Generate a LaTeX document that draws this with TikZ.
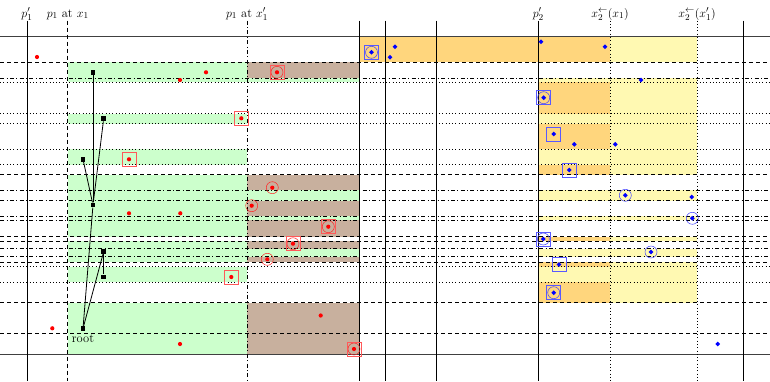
\documentclass[tikz,border=0pt]{standalone}
\usetikzlibrary{shapes.geometric}
\definecolor{cgreen}{RGB}{204,255,204}
\definecolor{cbrown}{RGB}{200,176,158}
\definecolor{corange}{RGB}{255,214,125}
\definecolor{cyellow}{RGB}{255,249,178}
\tikzset{
  sline/.style={line width=0.8pt},
  hsline/.style={line width=0.9pt, black!75},
  dshline/.style={line width=0.8pt, dash pattern=on 4pt off 3pt},
  ddtline/.style={line width=0.8pt, dash pattern=on 4pt off 2.5pt on 0.8pt off 2.5pt},
  dttline/.style={line width=0.8pt, dash pattern=on 0.8pt off 2.5pt},
  tnode/.style={rectangle, fill=black, minimum size=4.8pt, inner sep=0pt},
  tedge/.style={line width=0.8pt},
  rpt/.style={circle, fill=red, minimum size=4.2pt, inner sep=0pt},
  bpt/.style={diamond, aspect=1, fill=blue, minimum size=5pt, inner sep=0pt},
  rcirc/.style={circle, draw=red!85, line width=0.5pt, minimum size=12pt, inner sep=0pt},
  rsq/.style={rectangle, draw=red!65, line width=0.7pt, minimum size=14pt, inner sep=0pt},
  bcirc/.style={circle, draw=blue!75, line width=0.5pt, minimum size=12pt, inner sep=0pt},
  bsq/.style={rectangle, draw=blue!65, line width=0.7pt, minimum size=14pt, inner sep=0pt},
  toplabel/.style={anchor=base, inner sep=0pt}
}
\begin{document}
\begin{tikzpicture}[x=1pt, y=-1pt, font=\fontsize{12.5}{15}\selectfont]
\useasboundingbox (0,0) rectangle (770,381);
% ---------- left fills ----------
\fill[cgreen] (67.7,62.3) rectangle (359.3,82.3);
\fill[cbrown] (247,62.3) rectangle (359.3,78);
\fill[cgreen] (67.7,113.7) rectangle (247,123.7);
\fill[cgreen] (67.7,149) rectangle (247,164.7);
\fill[cgreen] (67.7,174.7) rectangle (359.3,236.7);
\fill[cbrown] (247,174.7) rectangle (359.3,190.3);
\fill[cbrown] (247,200.7) rectangle (359.3,216);
\fill[cbrown] (247,220.3) rectangle (359.3,236.7);
\fill[cgreen] (67.7,241) rectangle (359.3,262);
\fill[cbrown] (247,241) rectangle (359.3,248.7);
\fill[cbrown] (247,256.7) rectangle (359.3,262);
\fill[cgreen] (67.7,266.7) rectangle (247,282.3);
\fill[cgreen] (67.7,302.7) rectangle (247,354);
\fill[cbrown] (247,302.7) rectangle (359.3,354);
% ---------- right fills ----------
\fill[corange] (359.3,36.5) rectangle (610,62.3);
\fill[cyellow] (610,36.5) rectangle (697,62.3);
\fill[cyellow] (538.3,78) rectangle (697,174.7);
\fill[corange] (538.3,82.3) rectangle (610,113.7);
\fill[corange] (538.3,123.7) rectangle (610,149);
\fill[corange] (538.3,164.7) rectangle (610,174.7);
\fill[cyellow] (538.3,190.3) rectangle (697,200.7);
\fill[cyellow] (538.3,216) rectangle (697,220.3);
\fill[cyellow] (538.3,236.7) rectangle (697,241);
\fill[corange] (538.3,236.7) rectangle (610,241);
\fill[cyellow] (538.3,248.7) rectangle (697,256.7);
\fill[cyellow] (538.3,262) rectangle (697,302.7);
\fill[corange] (538.3,262) rectangle (610,266.7);
\fill[corange] (538.3,282.3) rectangle (610,302.7);
% ---------- horizontal lines ----------
\foreach \yy in {36.5,354} \draw[hsline] (0,\yy) -- (770,\yy);
\foreach \yy in {62.3,174.7,236.7,241,262,302.7,333.3} \draw[dshline] (0,\yy) -- (770,\yy);
\foreach \yy in {78,190.3,200.7,216,220.3,248.7,256.7} \draw[ddtline] (0,\yy) -- (770,\yy);
\foreach \yy in {82.3,113.7,123.7,149,164.7,266.7,282.3} \draw[dttline] (0,\yy) -- (770,\yy);
% ---------- vertical lines ----------
\foreach \xx in {27,359.3,385,436,538.3,743.3} \draw[sline] (\xx,20.5) -- (\xx,381);
\draw[dshline] (67.7,20.5) -- (67.7,381);
\draw[ddtline] (247,20.5) -- (247,381);
\foreach \xx in {610,697} \draw[dttline] (\xx,20.5) -- (\xx,381);
% ---------- labels ----------
\node[toplabel] (lpa) at (27,17) {$p'_1$};
\node[toplabel] (lpb) at (67.7,17) {$p_1$ at $x_1$};
\node[toplabel] (lpc) at (247,17) {$p_1$ at $x'_1$};
\node[toplabel] (lpd) at (538.3,17) {$p'_2$};
\node[toplabel] (lpe) at (610,17) {$x_2^{\leftarrow}(x_1)$};
\node[toplabel] (lpf) at (697,17) {$x_2^{\leftarrow}(x'_1)$};
% ---------- tree ----------
\node[tnode] (A) at (93,72.3) {};
\node[tnode] (B) at (103.7,118.7) {};
\node[tnode] (C) at (83,159.3) {};
\node[tnode] (D) at (93,205) {};
\node[tnode] (E) at (103.7,251.5) {};
\node[tnode] (F) at (103.7,277) {};
\node[tnode] (R) at (83,328.5) {};
\node[anchor=base, inner sep=0pt] (rootlabel) at (83,342.7) {root};
\draw[tedge] (A) -- (D);
\draw[tedge] (B) -- (D);
\draw[tedge] (C) -- (D);
\draw[tedge] (R) -- (D);
\draw[tedge] (R) -- (E);
\draw[tedge] (E) -- (F);
% ---------- red points ----------
\node[rpt] (r1) at (37,57) {};
\node[rpt] (r2) at (206,72.3) {};
\node[rpt] (r3) at (180,80) {};
\node[rpt] (r4) at (277,72.3) {};
\node[rpt] (r5) at (241.3,118.3) {};
\node[rpt] (r6) at (129,159.3) {};
\node[rpt] (r7) at (272.3,187.7) {};
\node[rpt] (r8) at (251.7,205.7) {};
\node[rpt] (r9) at (129,213.3) {};
\node[rpt] (r10) at (180.3,213.3) {};
\node[rpt] (r11) at (328.3,226.7) {};
\node[rpt] (r12) at (293,243.7) {};
\node[rpt] (r13) at (267.3,259.3) {};
\node[rpt] (r14) at (231.3,277) {};
\node[rpt] (r15) at (320.7,315.5) {};
\node[rpt] (r16) at (52.3,328.3) {};
\node[rpt] (r17) at (180,344) {};
\node[rpt] (r18) at (354,349) {};
\node[rcirc] (r4c) at (r4) {};
\node[rsq] (r4s) at (r4) {};
\node[rsq] (r5s) at (r5) {};
\node[rsq] (r6s) at (r6) {};
\node[rcirc] (r7c) at (r7) {};
\node[rcirc] (r8c) at (r8) {};
\node[rcirc] (r11c) at (r11) {};
\node[rsq] (r11s) at (r11) {};
\node[rcirc] (r12c) at (r12) {};
\node[rsq] (r12s) at (r12) {};
\node[rcirc] (r13c) at (r13) {};
\node[rsq] (r14s) at (r14) {};
\node[rcirc] (r18c) at (r18) {};
\node[rsq] (r18s) at (r18) {};
% ---------- blue points ----------
\node[bpt] (b1) at (371.5,52.3) {};
\node[bpt] (b2) at (395,46.7) {};
\node[bpt] (b3) at (390,57.3) {};
\node[bpt] (b4) at (541,41.7) {};
\node[bpt] (b5) at (605,46.7) {};
\node[bpt] (b6) at (641,80) {};
\node[bpt] (b7) at (543.7,97.7) {};
\node[bpt] (b8) at (553.7,134) {};
\node[bpt] (b9) at (574.3,144.3) {};
\node[bpt] (b10) at (615.3,144.3) {};
\node[bpt] (b11) at (569.3,170) {};
\node[bpt] (b12) at (625.3,195.3) {};
\node[bpt] (b13) at (691.7,197) {};
\node[bpt] (b14) at (692.3,218.3) {};
\node[bpt] (b15) at (543.3,239) {};
\node[bpt] (b16) at (651,252) {};
\node[bpt] (b17) at (559,264.5) {};
\node[bpt] (b18) at (553.7,292.7) {};
\node[bpt] (b19) at (717.7,344) {};
\node[bcirc] (b1c) at (b1) {};
\node[bsq] (b1s) at (b1) {};
\node[bcirc] (b7c) at (b7) {};
\node[bsq] (b7s) at (b7) {};
\node[bsq] (b8s) at (b8) {};
\node[bsq] (b11s) at (b11) {};
\node[bcirc] (b12c) at (b12) {};
\node[bcirc] (b14c) at (b14) {};
\node[bcirc] (b15c) at (b15) {};
\node[bsq] (b15s) at (b15) {};
\node[bcirc] (b16c) at (b16) {};
\node[bsq] (b17s) at (b17) {};
\node[bcirc] (b18c) at (b18) {};
\node[bsq] (b18s) at (b18) {};
\end{tikzpicture}
\end{document}
